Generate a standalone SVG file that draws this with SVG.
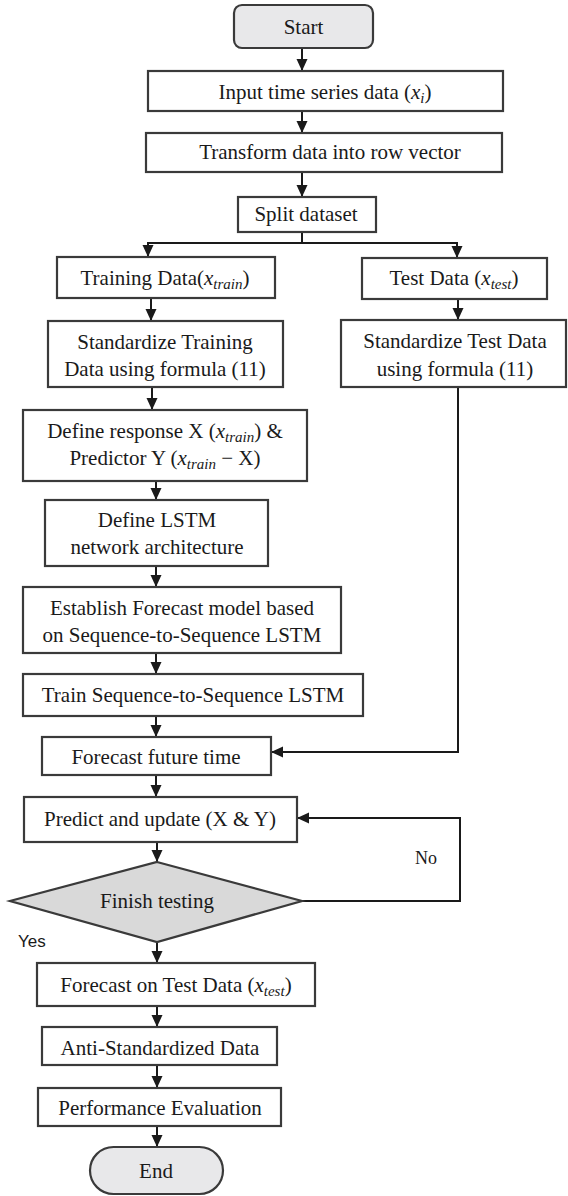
<svg xmlns="http://www.w3.org/2000/svg" width="568" height="1196" viewBox="0 0 568 1196">
  <defs>
    <marker id="arrow" markerUnits="userSpaceOnUse" markerWidth="12" markerHeight="12" viewBox="0 0 12 12" refX="12" refY="6" orient="auto">
      <path d="M0,0.5 L12,6 L0,11.5 Z" fill="#1a1a1a"/>
    </marker>
    <style>
      .box { fill: #ffffff; stroke: #3a3a3a; stroke-width: 2.2; }
      .term { fill: #e8e8ea; stroke: #3a3a3a; stroke-width: 2.2; }
      .dec { fill: #d9d9d9; stroke: #3a3a3a; stroke-width: 2.2; }
      .lbl { font-family: "Liberation Serif", "Times New Roman", serif; font-size: 21px; fill: #1a1a1a; text-anchor: middle; }
      .m { font-style: italic; }
      .sub { font-style: italic; font-size: 15px; }
      .edge { fill: none; stroke: #1a1a1a; stroke-width: 2; }
      .yes { font-family: "Liberation Sans", Arial, sans-serif; font-size: 17px; fill: #1a1a1a; }
      .no { font-family: "Liberation Serif", "Times New Roman", serif; font-size: 18px; fill: #1a1a1a; }
    </style>
  </defs>
  <rect width="568" height="1196" fill="#ffffff"/>

  <!-- connectors -->
  <g id="connectors">
    <path class="edge" d="M302,48 V71" marker-end="url(#arrow)"/>
    <path class="edge" d="M302,111 V133" marker-end="url(#arrow)"/>
    <path class="edge" d="M302,172 V197" marker-end="url(#arrow)"/>
    <path class="edge" d="M302,232 V243"/>
    <path class="edge" d="M302,243 H148 V257" marker-end="url(#arrow)"/>
    <path class="edge" d="M302,243 H457 V258" marker-end="url(#arrow)"/>
    <path class="edge" d="M151,298 V321" marker-end="url(#arrow)"/>
    <path class="edge" d="M458,299 V320" marker-end="url(#arrow)"/>
    <path class="edge" d="M152,387 V410" marker-end="url(#arrow)"/>
    <path class="edge" d="M156,481 V500" marker-end="url(#arrow)"/>
    <path class="edge" d="M156,566 V587" marker-end="url(#arrow)"/>
    <path class="edge" d="M156,653 V674" marker-end="url(#arrow)"/>
    <path class="edge" d="M156,716 V737" marker-end="url(#arrow)"/>
    <path class="edge" d="M458,387 V752 H271" marker-end="url(#arrow)"/>
    <path class="edge" d="M156,775 V797" marker-end="url(#arrow)"/>
    <path class="edge" d="M157,842 V862" marker-end="url(#arrow)"/>
    <path class="edge" d="M302,901 H460 V818 H297" marker-end="url(#arrow)"/>
    <path class="edge" d="M157,942 V963" marker-end="url(#arrow)"/>
    <path class="edge" d="M157,1006 V1027" marker-end="url(#arrow)"/>
    <path class="edge" d="M157,1065 V1088" marker-end="url(#arrow)"/>
    <path class="edge" d="M157,1126 V1147" marker-end="url(#arrow)"/>
    <text class="no" x="415" y="864">No</text>
    <text class="yes" x="18" y="947">Yes</text>
  </g>

  <g id="start">
    <rect class="term" x="234" y="5" width="139" height="43" rx="8"/>
    <text class="lbl" x="303.5" y="34">Start</text>
  </g>

  <g id="input">
    <rect class="box" x="148" y="71" width="355" height="40"/>
    <text class="lbl" x="325" y="99">Input time series data (<tspan class="m">x</tspan><tspan class="sub" dy="4">i</tspan><tspan dy="-4">)</tspan></text>
  </g>

  <g id="transform">
    <rect class="box" x="146" y="133" width="356" height="39"/>
    <text class="lbl" x="330" y="159">Transform data into row vector</text>
  </g>

  <g id="split">
    <rect class="box" x="238" y="197" width="138" height="35"/>
    <text class="lbl" x="306" y="221">Split dataset</text>
  </g>

  <g id="training">
    <rect class="box" x="57" y="257" width="218" height="41"/>
    <text class="lbl" x="165" y="285">Training Data(<tspan class="m">x</tspan><tspan class="sub" dy="4">train</tspan><tspan dy="-4">)</tspan></text>
  </g>

  <g id="test">
    <rect class="box" x="362" y="258" width="185" height="41"/>
    <text class="lbl" x="454" y="285">Test Data (<tspan class="m">x</tspan><tspan class="sub" dy="4">test</tspan><tspan dy="-4">)</tspan></text>
  </g>

  <g id="std-train">
    <rect class="box" x="48" y="321" width="235" height="66"/>
    <text class="lbl" x="165" y="349">Standardize Training</text>
    <text class="lbl" x="165" y="376">Data using formula (11)</text>
  </g>

  <g id="std-test">
    <rect class="box" x="341" y="320" width="225" height="67"/>
    <text class="lbl" x="455" y="348">Standardize Test Data</text>
    <text class="lbl" x="455" y="376">using formula (11)</text>
  </g>

  <g id="define-response">
    <rect class="box" x="23" y="410" width="284" height="71"/>
    <text class="lbl" x="165" y="438">Define response X (<tspan class="m">x</tspan><tspan class="sub" dy="4">train</tspan><tspan dy="-4">) &amp;</tspan></text>
    <text class="lbl" x="165" y="465">Predictor Y (<tspan class="m">x</tspan><tspan class="sub" dy="4">train</tspan><tspan dy="-4"> − X)</tspan></text>
  </g>

  <g id="define-lstm">
    <rect class="box" x="45" y="500" width="223" height="66"/>
    <text class="lbl" x="157" y="527">Define LSTM</text>
    <text class="lbl" x="157" y="554">network architecture</text>
  </g>

  <g id="establish">
    <rect class="box" x="23" y="587" width="318" height="66"/>
    <text class="lbl" x="182" y="615">Establish Forecast model based</text>
    <text class="lbl" x="182" y="642">on Sequence-to-Sequence LSTM</text>
  </g>

  <g id="train">
    <rect class="box" x="23" y="674" width="340" height="42"/>
    <text class="lbl" x="193" y="702">Train Sequence-to-Sequence LSTM</text>
  </g>

  <g id="forecast-future">
    <rect class="box" x="42" y="737" width="229" height="38"/>
    <text class="lbl" x="156" y="764">Forecast future time</text>
  </g>

  <g id="predict-update">
    <rect class="box" x="24" y="797" width="273" height="45"/>
    <text class="lbl" x="160" y="826">Predict and update (X &amp; Y)</text>
  </g>

  <g id="finish-testing">
    <polygon class="dec" points="157,862 302,901 157,942 10,901"/>
    <text class="lbl" x="157" y="908">Finish testing</text>
  </g>

  <g id="forecast-test">
    <rect class="box" x="37" y="963" width="278" height="43"/>
    <text class="lbl" x="176" y="992">Forecast on Test Data (<tspan class="m">x</tspan><tspan class="sub" dy="4">test</tspan><tspan dy="-4">)</tspan></text>
  </g>

  <g id="anti-standardized">
    <rect class="box" x="42" y="1027" width="235" height="38"/>
    <text class="lbl" x="160" y="1055">Anti-Standardized Data</text>
  </g>

  <g id="performance">
    <rect class="box" x="38" y="1088" width="243" height="38"/>
    <text class="lbl" x="160" y="1115">Performance Evaluation</text>
  </g>

  <g id="end">
    <rect class="term" x="90" y="1147" width="133" height="47" rx="23.5"/>
    <text class="lbl" x="156" y="1178">End</text>
  </g>
</svg>
